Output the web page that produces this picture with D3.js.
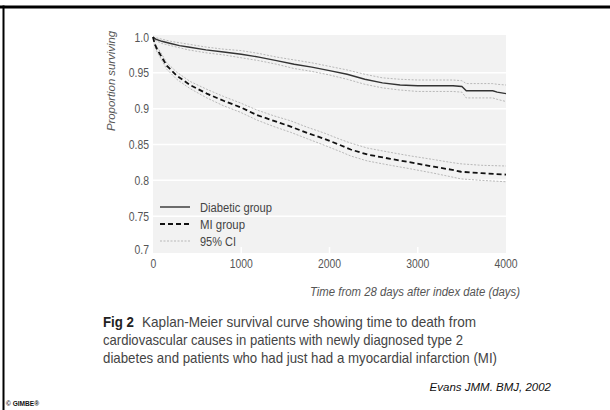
<!DOCTYPE html>
<html>
<head>
<meta charset="utf-8">
<script src="https://cdn.jsdelivr.net/npm/d3@7"></script>
<style>
  body { margin: 0; background: #fff; }
  svg { display: block; }
</style>
</head>
<body>
<svg id="chart" width="610" height="410"></svg>
<script>
// survival data
const diabTime  = [0, 30, 100, 200, 300, 400, 600, 800, 1000, 1200, 1400, 1600, 1800, 2000, 2200, 2400, 2600, 2800, 3000, 3200, 3400, 3500, 3550, 3850, 3900, 4000];
const diabSurv  = [1.0, 0.997, 0.994, 0.991, 0.988, 0.986, 0.982, 0.979, 0.976, 0.972, 0.967, 0.962, 0.958, 0.953, 0.948, 0.941, 0.936, 0.933, 0.932, 0.932, 0.932, 0.931, 0.925, 0.925, 0.923, 0.921];
const diabUpper = [1.0, 0.999, 0.997, 0.994, 0.992, 0.990, 0.986, 0.983, 0.981, 0.977, 0.972, 0.968, 0.964, 0.959, 0.954, 0.948, 0.943, 0.941, 0.940, 0.940, 0.940, 0.939, 0.935, 0.935, 0.934, 0.933];
const diabLower = [1.0, 0.995, 0.991, 0.988, 0.985, 0.982, 0.978, 0.975, 0.971, 0.967, 0.962, 0.956, 0.952, 0.947, 0.941, 0.934, 0.929, 0.926, 0.924, 0.924, 0.924, 0.923, 0.915, 0.915, 0.913, 0.910];

const miTime  = [0, 20, 50, 80, 156, 269, 420, 610, 800, 990, 1180, 1370, 1560, 1750, 1940, 2125, 2240, 2430, 2690, 2920, 3180, 3375, 3490, 3720, 4000];
const miSurv  = [1.0, 0.990, 0.982, 0.976, 0.960, 0.946, 0.933, 0.921, 0.911, 0.902, 0.891, 0.883, 0.875, 0.866, 0.858, 0.849, 0.843, 0.836, 0.830, 0.825, 0.819, 0.815, 0.812, 0.810, 0.808];
const miUpper = [1.0, 0.992, 0.985, 0.980, 0.964, 0.951, 0.938, 0.927, 0.917, 0.908, 0.898, 0.890, 0.883, 0.874, 0.866, 0.857, 0.852, 0.845, 0.839, 0.834, 0.829, 0.825, 0.823, 0.821, 0.820];
const miLower = [1.0, 0.987, 0.978, 0.972, 0.955, 0.941, 0.928, 0.915, 0.904, 0.895, 0.884, 0.875, 0.867, 0.858, 0.849, 0.840, 0.834, 0.827, 0.821, 0.816, 0.810, 0.805, 0.802, 0.800, 0.798];

const xTicks = [0, 1000, 2000, 3000, 4000];
const yTicks = [0.7, 0.75, 0.8, 0.85, 0.9, 0.95, 1.0];
const yTickLabels = ["0.7", "0.75", "0.8", "0.85", "0.9", "0.95", "1.0"];
const legendLabels = ["Diabetic group", "MI group", "95% CI"];
const captionLines = [
  "Kaplan-Meier survival curve showing time to death from",
  "cardiovascular causes in patients with newly diagnosed type 2",
  "diabetes and patients who had just had a myocardial infarction (MI)"
];

const sans = '"Liberation Sans", Arial, sans-serif';
const NARROW = 0.8;  // the source uses a condensed face; squeeze regular glyphs

// squeeze a text to a share of its natural width (or to a given width)
function narrow(sel, w) {
  sel.each(function() {
    const len = w || this.getComputedTextLength() * NARROW;
    d3.select(this).attr('textLength', len).attr('lengthAdjust', 'spacingAndGlyphs');
  });
}

const svg = d3.select('#chart');

// slide frame
svg.append('rect').attr('x', 0).attr('y', 5.5).attr('width', 610).attr('height', 3).attr('fill', '#000');
svg.append('rect').attr('x', 2.5).attr('y', 5.5).attr('width', 2).attr('height', 405).attr('fill', '#000');

const x = d3.scaleLinear().domain([0, 4000]).range([153, 506]);
const y = d3.scaleLinear().domain([0.7, 1.0]).range([252, 37]);

// plot background
svg.append('rect')
  .attr('x', x(0)).attr('y', 35)
  .attr('width', x(4000) - x(0)).attr('height', 253 - 35)
  .attr('fill', '#f2f2f2');

// horizontal gridlines
svg.selectAll('.grid')
  .data(yTicks.filter(d => d > 0.7 && d < 1.0))
  .enter().append('line')
  .attr('x1', x(0)).attr('x2', x(4000))
  .attr('y1', d => y(d)).attr('y2', d => y(d))
  .attr('stroke', '#fff').attr('stroke-width', 1.5);

// little white ticks on the bottom edge
svg.selectAll('.vt')
  .data(xTicks.slice(1, 4))
  .enter().append('line')
  .attr('x1', d => x(d)).attr('x2', d => x(d))
  .attr('y1', 247).attr('y2', 253)
  .attr('stroke', '#fff').attr('stroke-width', 1.5);

// tick labels
svg.selectAll('.ylab')
  .data(yTicks)
  .enter().append('text')
  .attr('x', 149)
  .attr('y', (d, i) => i === 0 ? y(d) + 2 : y(d) + 4.5)
  .attr('text-anchor', 'end')
  .attr('font-family', sans).attr('font-size', 13).attr('fill', '#555')
  .text((d, i) => yTickLabels[i])
  .call(narrow);

svg.selectAll('.xlab')
  .data(xTicks)
  .enter().append('text')
  .attr('x', d => d === 0 ? x(d) + 0.5 : x(d))
  .attr('y', 268)
  .attr('text-anchor', 'middle')
  .attr('font-family', sans).attr('font-size', 13).attr('fill', '#555')
  .text(d => d)
  .call(narrow);

// axis titles
svg.append('text')
  .attr('transform', 'translate(115,81) rotate(-90)')
  .attr('text-anchor', 'middle')
  .attr('font-family', sans).attr('font-style', 'italic').attr('font-size', 11.5).attr('fill', '#555')
  .text('Proportion surviving')
  .call(narrow, 100);

svg.append('text')
  .attr('x', 520).attr('y', 296)
  .attr('text-anchor', 'end')
  .attr('font-family', sans).attr('font-style', 'italic').attr('font-size', 12).attr('fill', '#555')
  .text('Time from 28 days after index date (days)')
  .call(narrow, 210);

// curves
const line = d3.line().x(d => x(d[0])).y(d => y(d[1]));
const pairs = (t, v) => t.map((d, i) => [d, v[i]]);

const ciStyle = p => p.attr('fill', 'none').attr('stroke', '#b8b8b8').attr('stroke-width', 1).attr('stroke-dasharray', '2,1.5');

[[diabTime, diabUpper], [diabTime, diabLower], [miTime, miUpper], [miTime, miLower]].forEach(([t, v]) => {
  svg.append('path').datum(pairs(t, v)).attr('d', line).call(ciStyle);
});

svg.append('path').datum(pairs(diabTime, diabSurv)).attr('d', line)
  .attr('fill', 'none').attr('stroke', '#333').attr('stroke-width', 1.4);

svg.append('path').datum(pairs(miTime, miSurv)).attr('d', line)
  .attr('fill', 'none').attr('stroke', '#111').attr('stroke-width', 1.8).attr('stroke-dasharray', '5,3');

// legend
const legY = [207, 224, 241];
const legW = [72, 45, 36];
legendLabels.forEach((lab, i) => {
  const l = svg.append('line')
    .attr('x1', 160).attr('x2', 190).attr('y1', legY[i]).attr('y2', legY[i]);
  if (i === 0) l.attr('stroke', '#333').attr('stroke-width', 1.4);
  if (i === 1) l.attr('stroke', '#111').attr('stroke-width', 1.8).attr('stroke-dasharray', '5,3');
  if (i === 2) l.call(ciStyle);
  svg.append('text')
    .attr('x', 200).attr('y', legY[i] + 4.5)
    .attr('font-family', sans).attr('font-size', 12.5).attr('fill', '#444')
    .text(lab)
    .call(narrow, legW[i]);
});

// caption
const capX = [142, 103, 103];
const capW = [334, 360, 394];
svg.append('text')
  .attr('x', 103).attr('y', 327)
  .attr('font-family', sans).attr('font-weight', 'bold').attr('font-size', 15).attr('fill', '#222')
  .text('Fig 2')
  .call(narrow, 31);
captionLines.forEach((ln, i) => {
  svg.append('text')
    .attr('x', capX[i]).attr('y', 327 + i * 18)
    .attr('font-family', sans).attr('font-size', 15).attr('fill', '#444')
    .text(ln)
    .call(narrow, capW[i]);
});

svg.append('text')
  .attr('x', 551).attr('y', 391)
  .attr('text-anchor', 'end')
  .attr('font-family', sans).attr('font-style', 'italic').attr('font-size', 11.5).attr('fill', '#111')
  .text('Evans JMM. BMJ, 2002');

svg.append('text')
  .attr('x', 6).attr('y', 406)
  .attr('font-family', sans).attr('font-weight', 'bold').attr('font-size', 8).attr('fill', '#111')
  .text('\u00a9 GIMBE\u00ae')
  .call(narrow, 33);
</script>
</body>
</html>
